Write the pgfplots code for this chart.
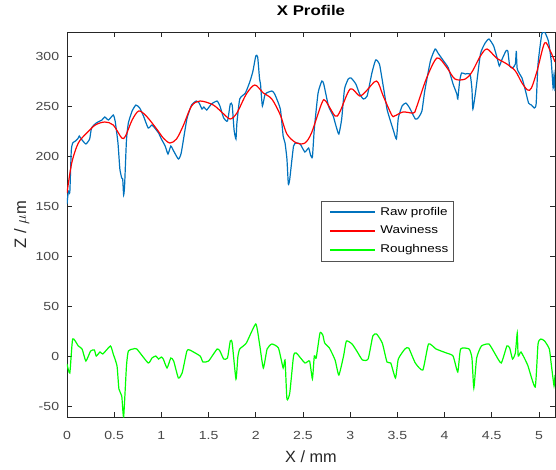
\documentclass[border=0pt]{standalone}
\usepackage{pgfplots}
\pgfplotsset{compat=1.18}
\usepackage{fontspec}
\setmainfont{Liberation Sans}[FakeStretch=1.2]
\newfontfamily\plainsans{Liberation Sans}
\definecolor{mblue}{rgb}{0,0.447,0.741}
\definecolor{axgray}{rgb}{0.15,0.15,0.15}
\begin{document}
\begin{tikzpicture}[x=1pt,y=1pt]
\begin{axis}[
  name=ax,
  at={(0,0)}, anchor=south west,
  scale only axis,
  width=366pt, height=288.75pt,
  xmin=0, xmax=5.17, ymin=-61, ymax=324,
  xtick={0,0.5,...,5}, ytick={-50,0,50,100,150,200,250,300},
  xticklabels={0,0.5,1,1.5,2,2.5,3,3.5,4,4.5,5},
  tick align=inside, major tick length=3.5pt,
  axis line style={axgray, line width=0.5pt},
  tick style={axgray, line width=0.5pt},
  /pgf/number format/assume math mode=true,
  tick label style={font=\fontsize{8.8}{10}\selectfont, text=axgray!85},
  xticklabel style={yshift=-7.3pt},
  yticklabel style={xshift=-2.4pt},
  title={\textbf{X Profile}},
  title style={at={(axis description cs:0.5,1.036)}, anchor=center, font=\fontsize{10.5}{12}\selectfont},
  xlabel={X / mm},
  ylabel={Z / $\mu$m},
  xlabel style={at={(axis description cs:0.5,-0.103)}, anchor=center, font=\plainsans\fontsize{12.2}{14}\selectfont, text=axgray},
  ylabel style={at={(axis description cs:-0.0928,0.5)}, anchor=center, font=\plainsans\fontsize{12.4}{14}\selectfont, text=axgray},
  legend cell align=left,
  legend style={at={(rel axis cs:0.52,0.5618)}, anchor=north west, draw=axgray!80, line width=0.5pt,
    font=\fontsize{8.4}{10}\selectfont, inner xsep=3.5pt, inner ysep=4.2pt,
    nodes={inner sep=0pt, text height=6.5pt, text depth=2pt}, row sep=5.5pt, column sep=3pt},
  legend image code/.code={\path[draw=none,fill=none] (0pt,0pt) -- (3.5pt,0pt);
    \draw[#1, line width=1.4pt] (3.5pt,0pt) -- (37.25pt,0pt);},
]
\addplot[mblue, line width=0.9pt, smooth, tension=0.3] coordinates {
(0,152) (0.015,165) (0.03,164) (0.045,205) (0.06,213) (0.09,215) (0.12,218) (0.13,220) (0.16,216) (0.20,212)
(0.24,217) (0.26,228) (0.31,233) (0.37,236) (0.40,239) (0.44,236) (0.49,241) (0.51,235) (0.54,213) (0.56,187)
(0.58,178) (0.59,177) (0.60,161) (0.61,170) (0.63,216) (0.65,233) (0.69,245) (0.73,251) (0.77,248) (0.81,240)
(0.86,228) (0.90,231) (0.93,228) (0.97,223) (1.00,217) (1.04,210) (1.07,202) (1.10,210) (1.13,205) (1.18,197)
(1.21,203) (1.27,237) (1.32,251) (1.37,255) (1.40,253) (1.43,247) (1.45,249) (1.48,246) (1.53,252) (1.59,255)
(1.62,250) (1.66,238) (1.70,235) (1.73,252) (1.75,251) (1.77,226) (1.79,217) (1.80,233) (1.83,257) (1.89,263)
(1.94,275) (1.97,285) (2.00,300) (2.02,299) (2.04,277) (2.05,272) (2.07,250) (2.10,262) (2.17,265) (2.20,262)
(2.26,247) (2.29,220) (2.31,213) (2.33,197) (2.345,172) (2.36,177) (2.40,210) (2.43,213) (2.47,212) (2.52,204)
(2.56,208) (2.58,201) (2.60,199) (2.62,227) (2.66,263) (2.70,275) (2.72,272) (2.77,250) (2.82,240) (2.85,230)
(2.88,222) (2.91,237) (2.94,267) (2.98,277) (3.01,278) (3.06,272) (3.10,262) (3.14,257) (3.18,260) (3.23,283)
(3.27,296) (3.31,292) (3.35,270) (3.39,247) (3.42,237) (3.46,225) (3.49,217) (3.51,238) (3.55,250) (3.59,253)
(3.63,248) (3.69,237) (3.72,238) (3.76,245) (3.79,265) (3.85,295) (3.90,307) (3.93,303) (3.99,295) (4.04,288)
(4.09,272) (4.13,262) (4.14,257) (4.16,275) (4.18,283) (4.22,282) (4.27,282) (4.29,267) (4.30,247) (4.33,265)
(4.38,302) (4.43,313) (4.47,317) (4.52,310) (4.56,297) (4.58,290) (4.61,297) (4.65,305) (4.67,305) (4.69,290)
(4.72,288) (4.75,292) (4.76,305) (4.77,287) (4.82,278) (4.85,268) (4.89,253) (4.92,251) (4.95,248) (4.97,252)
(4.99,292) (5.03,322) (5.06,324) (5.10,315) (5.13,295) (5.15,268) (5.16,282) (5.17,265)
};
\addlegendentry{Raw profile}
\addplot[red, line width=0.9pt, smooth] coordinates {
(0,163) (0.05,193) (0.12,213) (0.21,223) (0.30,231) (0.40,234) (0.49,231) (0.58,218) (0.62,220) (0.69,236)
(0.76,245) (0.84,240) (0.95,227) (1.02,218) (1.09,213) (1.16,217) (1.23,230) (1.32,250) (1.41,255) (1.55,251)
(1.66,242) (1.73,237) (1.80,243) (1.90,262) (1.99,271) (2.08,263) (2.17,257) (2.26,241) (2.33,222) (2.43,213)
(2.52,213) (2.59,223) (2.70,253) (2.74,255) (2.84,240) (2.89,244) (3.00,267) (3.10,260) (3.17,265) (3.28,275)
(3.35,260) (3.44,241) (3.47,240) (3.56,244) (3.67,243) (3.70,248) (3.81,278) (3.92,298) (4.02,289) (4.11,277)
(4.22,277) (4.29,284) (4.38,300) (4.45,307) (4.55,298) (4.66,292) (4.75,285) (4.82,273) (4.88,266) (4.92,268)
(4.98,285) (5.06,313) (5.12,305) (5.17,294)
};
\addlegendentry{Waviness}
\addplot[green, line width=0.9pt, smooth, tension=0.3] coordinates {
(0,-8) (0.03,-17) (0.06,17) (0.12,10) (0.16,7) (0.20,-5) (0.25,5) (0.29,6) (0.31,0) (0.35,4)
(0.38,2) (0.46,10) (0.49,2) (0.53,-10) (0.55,-33) (0.58,-40) (0.60,-61) (0.63,-10) (0.65,5) (0.70,7)
(0.74,7) (0.86,-7) (0.90,-2) (0.94,0) (0.97,-3) (1.00,-1) (1.02,-3) (1.06,-12) (1.10,-2) (1.13,-5)
(1.18,-22) (1.22,-17) (1.27,5) (1.30,6) (1.41,0) (1.44,-6) (1.50,-5) (1.59,7) (1.62,5) (1.66,-3)
(1.70,-2) (1.73,15) (1.75,13) (1.79,-23) (1.81,-1) (1.83,7) (1.90,13) (2.00,32) (2.04,12) (2.08,-12)
(2.12,7) (2.17,12) (2.24,8) (2.29,-12) (2.31,-4) (2.33,-43) (2.36,-37) (2.40,0) (2.43,3) (2.52,-7)
(2.57,-5) (2.60,-23) (2.62,0) (2.64,-2) (2.68,23) (2.71,21) (2.73,13) (2.78,8) (2.84,-4) (2.88,-19)
(2.93,0) (2.96,15) (3.02,12) (3.07,5) (3.13,-4) (3.19,-3) (3.24,20) (3.28,22) (3.34,13) (3.39,-6)
(3.43,-7) (3.48,-22) (3.51,-3) (3.58,7) (3.62,8) (3.69,-7) (3.77,-14) (3.83,12) (3.91,7) (4.02,3)
(4.09,0) (4.14,-16) (4.17,7) (4.26,7) (4.29,-2) (4.31,-32) (4.34,-2) (4.39,10) (4.47,12) (4.53,3)
(4.60,-7) (4.66,10) (4.69,8) (4.72,-3) (4.75,3) (4.77,23) (4.78,0) (4.81,4) (4.88,-9) (4.96,-31)
(4.99,12) (5.02,17) (5.06,15) (5.11,7) (5.13,-8) (5.16,-30) (5.17,-19)
};
\addlegendentry{Roughness}
\end{axis}
\path (-50.25pt,-39pt) rectangle (366.75pt,312.75pt);
\end{tikzpicture}
\end{document}
